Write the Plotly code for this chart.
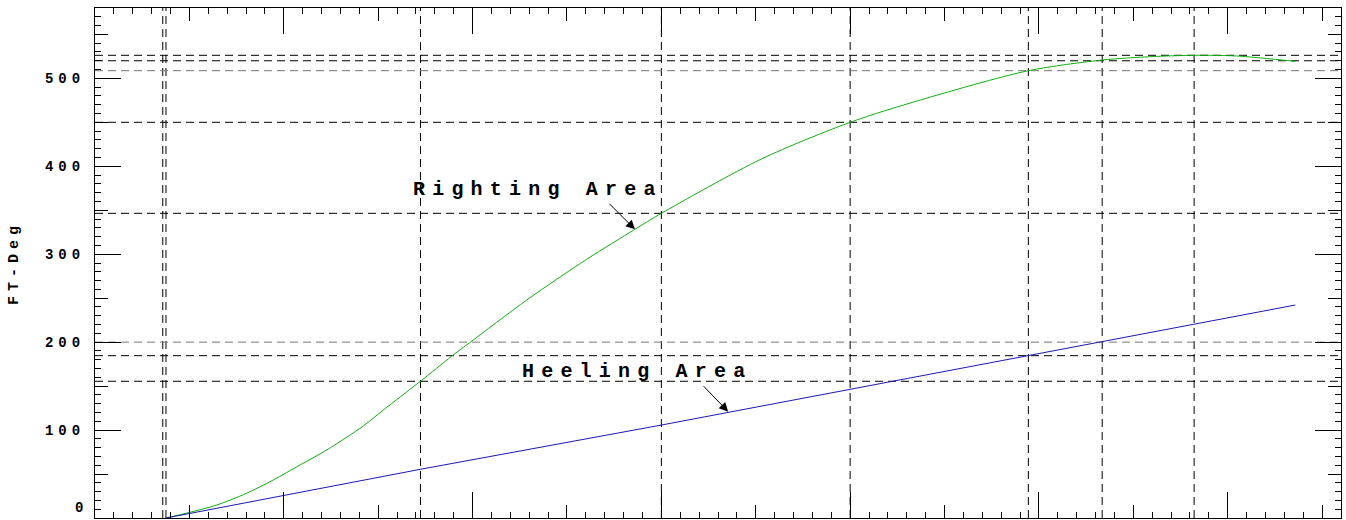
import plotly.graph_objects as go

# ---- data (heel angle in degrees, area in ft-deg) ----
righting_deg = [3.76, 5.03, 6.45, 8.03, 9.44, 10.86, 12.27, 14.21, 15.27, 17.24, 18.89, 19.86,
                22.87, 26.04, 28.60, 30.00, 35.32, 40.00, 43.71, 49.44, 53.35, 55.88, 58.22,
                60.48, 63.58]
righting_area = [0, 6.5, 14.8, 28.1, 43.2, 60.3, 77.3, 104.6, 122.8, 155.5, 184.0, 199.6,
                 247.9, 294.2, 328.3, 346.5, 408.5, 450.0, 475.3, 508.7, 520.8, 524.6, 526.2,
                 525.4, 519.3]

heeling_deg = [3.76, 17.24, 30.0, 40.0, 49.44, 53.35, 58.22, 63.58]
heeling_area = [0, 55.4, 105.7, 146.5, 184.6, 200.4, 220.0, 242.2]

ref_angles = [3.59, 3.76, 17.24, 30.0, 40.0, 49.44, 53.35, 58.22]
ref_areas = [155.5, 184.6, 200.0, 346.5, 450.0, 508.7, 520.0, 526.2]

y_tick_vals = [0, 100, 200, 300, 400, 500]
y_tick_labels = ["0", "100", "200", "300", "400", "500"]

righting_label = "Righting Area"
heeling_label = "Heeling Area"
y_title = "FT-Deg"

FONT = "Liberation Mono"


def spaced(t, px):
    return f'<span style="letter-spacing:{px}px">{t}</span>'


fig = go.Figure()

fig.add_trace(go.Scatter(x=righting_deg, y=righting_area, mode="lines",
                         line=dict(color="#10b010", width=1, shape="spline", smoothing=0.8),
                         hoverinfo="skip", showlegend=False))
fig.add_trace(go.Scatter(x=heeling_deg, y=heeling_area, mode="lines",
                         line=dict(color="#1a1ab4", width=1), hoverinfo="skip",
                         showlegend=False))
# dummy trace to instantiate the overlay axes (for mid-length ticks)
fig.add_trace(go.Scatter(x=[], y=[], xaxis="x2", yaxis="y2", showlegend=False,
                         hoverinfo="skip"))

for a in ref_angles:
    fig.add_vline(x=a, line=dict(color="black", width=1, dash="8px,5px"), layer="below")
for v in ref_areas:
    col = "#777777" if v in (200.0, 508.7) else "black"
    fig.add_hline(y=v, line=dict(color=col, width=1, dash="8px,5px"), layer="below")

# annotations: text and separate arrows
fig.add_annotation(x=23.45, y=374.1, text=spaced(righting_label, 7.2), showarrow=False,
                   font=dict(family=FONT, size=20, color="black", weight="bold"),
                   xanchor="center", yanchor="middle")
fig.add_annotation(x=28.7, y=166.4, text=spaced(heeling_label, 7.2), showarrow=False,
                   font=dict(family=FONT, size=20, color="black", weight="bold"),
                   xanchor="center", yanchor="middle")
fig.add_annotation(x=28.6, y=328.3, text="", showarrow=True, ax=-27, ay=-27,
                   arrowhead=2, arrowsize=1.8, arrowwidth=1, arrowcolor="black")
fig.add_annotation(x=33.54, y=120.9, text="", showarrow=True, ax=-26, ay=-27,
                   arrowhead=2, arrowsize=1.8, arrowwidth=1, arrowcolor="black")

tickfont = dict(family=FONT, size=14, color="black", weight="bold")

# the "0" label sits just above the bottom axis in the reference
fig.add_annotation(xref="paper", x=0, y=y_tick_vals[0], text=spaced(y_tick_labels[0], 5),
                   showarrow=False, xanchor="right", yanchor="bottom", xshift=-5,
                   font=tickfont)

fig.update_layout(
    width=1346, height=520,
    margin=dict(l=95, r=5, t=8, b=2),
    paper_bgcolor="white", plot_bgcolor="white",
    showlegend=False,
    xaxis=dict(range=[0, 66], showgrid=False, zeroline=False, showline=True,
               linecolor="black", linewidth=1, mirror="ticks",
               ticks="inside", tickmode="linear", tick0=0, dtick=10, ticklen=26,
               tickcolor="black", tickwidth=1, showticklabels=False,
               minor=dict(ticks="inside", dtick=1, tick0=0, ticklen=6,
                          tickcolor="black", tickwidth=1, showgrid=False)),
    xaxis2=dict(range=[0, 66], overlaying="x", anchor="y", showgrid=False,
                zeroline=False, showline=False, mirror="ticks", ticks="inside",
                tickmode="linear", tick0=5, dtick=10, ticklen=13, tickcolor="black",
                tickwidth=1, showticklabels=False),
    yaxis=dict(range=[0, 580], showgrid=False, zeroline=False, showline=True,
               linecolor="black", linewidth=1, mirror="ticks",
               ticks="inside", tickmode="array", tickvals=y_tick_vals[1:],
               ticktext=[spaced(t, 5) for t in y_tick_labels[1:]], ticklen=26,
               tickcolor="black", tickwidth=1, tickfont=tickfont,
               ticklabelstandoff=6,
               minor=dict(ticks="inside", dtick=10, tick0=0, ticklen=6,
                          tickcolor="black", tickwidth=1, showgrid=False),
               title=dict(text=spaced(y_title, 5), standoff=22,
                          font=dict(family=FONT, size=15, color="black", weight="bold"))),
    yaxis2=dict(range=[0, 580], overlaying="y", anchor="x", showgrid=False,
                zeroline=False, showline=False, mirror="ticks", ticks="inside",
                tickmode="linear", tick0=50, dtick=100, ticklen=13, tickcolor="black",
                tickwidth=1, showticklabels=False),
)

fig.write_html("out.html")
